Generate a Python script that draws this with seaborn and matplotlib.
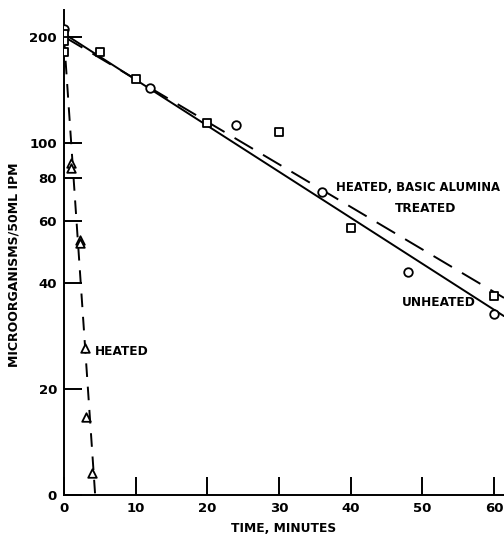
import numpy as np
import matplotlib
matplotlib.use("Agg")
import matplotlib.pyplot as plt
import matplotlib.ticker as mticker
import seaborn as sns

# ---- data ----
unheated_t = [0, 12, 24, 36, 48, 60]
unheated_n = [212, 144, 113, 73, 43, 32.7]

alumina_t = [0, 0, 0, 5, 10, 20, 30, 40, 60]
alumina_n = [204, 195, 182, 182, 152, 114.6, 107.4, 57.4, 36.9]

heated_t = [1.0, 1.0, 2.2, 2.2, 2.9, 3.1, 3.9]
heated_n = [88, 85, 53, 52, 26.2, 16.7, 11.6]

# hand-drawn trend lines (start / end)
unheated_line_t = [0, 61.4]
unheated_line_n = [205, 32.3]
alumina_line_t = [0, 61.4]
alumina_line_n = [201, 36.4]
heated_line_t = [0, 4.35]
heated_line_n = [200, 10]

y_ticks = [10, 20, 40, 60, 80, 100, 200]
y_tick_labels = ["0", "20", "40", "60", "80", "100", "200"]
x_ticks = [0, 10, 20, 30, 40, 50, 60]

# ---- style ----
sns.set_style("ticks")
plt.rcParams["font.family"] = ["DejaVu Sans"]
plt.rcParams["font.weight"] = "bold"
plt.rcParams["axes.edgecolor"] = "black"
plt.rcParams["xtick.color"] = "black"
plt.rcParams["ytick.color"] = "black"
plt.rcParams["text.color"] = "black"
plt.rcParams["axes.labelcolor"] = "black"

fig = plt.figure(figsize=(5.04, 5.39), dpi=100)
ax = fig.add_axes([0.127, 0.081, 0.873, 0.90])

sns.lineplot(x=unheated_line_t, y=unheated_line_n, ax=ax,
             color="black", lw=1.4)
sns.lineplot(x=alumina_line_t, y=alumina_line_n, ax=ax,
             color="black", lw=1.4, linestyle=(0, (11, 6)))
sns.lineplot(x=heated_line_t, y=heated_line_n, ax=ax,
             color="black", lw=1.4, linestyle=(0, (7, 5)))

mk = dict(facecolor="white", edgecolor="black", linewidth=1.3, s=38, zorder=5)
sns.scatterplot(x=unheated_t, y=unheated_n, marker="o", ax=ax, **mk)
sns.scatterplot(x=alumina_t, y=alumina_n, marker="s", ax=ax, **mk)
sns.scatterplot(x=heated_t, y=heated_n, marker="^", ax=ax, **mk)

ax.set_yscale("log")
ax.set_ylim(10, 239)
ax.set_xlim(0, 61.4)
ax.yaxis.set_major_locator(mticker.FixedLocator(y_ticks))
ax.yaxis.set_minor_locator(mticker.NullLocator())
ax.set_yticklabels(y_tick_labels)
ax.set_xticks(x_ticks)
ax.set_xticklabels([str(t) for t in x_ticks])
ax.tick_params(direction="in", length=13, width=1.4, labelsize=9.5, pad=5)

sns.despine(ax=ax)
for s in ["left", "bottom"]:
    ax.spines[s].set_linewidth(1.4)

ax.set_xlabel("TIME, MINUTES", fontsize=8.8, fontweight="bold", labelpad=5)
ax.set_ylabel("MICROORGANISMS/50ML IPM", fontsize=9, fontweight="bold")
ax.yaxis.set_label_coords(-0.098, 0.475)

tk = dict(fontsize=8.7, fontweight="bold", color="black")
ax.text(38.0, 74.7, "HEATED, BASIC ALUMINA", ha="left", va="center",
        fontsize=8.4, fontweight="bold", color="black")
ax.text(50.5, 65.2, "TREATED", ha="center", va="center", **tk)
ax.text(47.1, 35.3, "UNHEATED", ha="left", va="center", **tk)
ax.text(4.3, 25.7, "HEATED", ha="left", va="center", **tk)

fig.savefig("out.png", dpi=100)
